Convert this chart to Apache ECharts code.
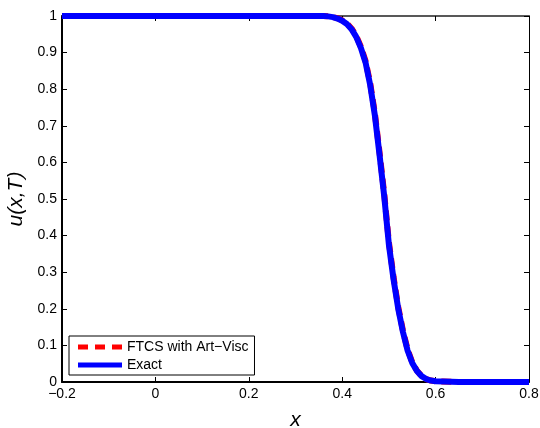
<!DOCTYPE html>
<html>
<head>
<meta charset="utf-8">
<script src="https://cdn.jsdelivr.net/npm/echarts@6/dist/echarts.min.js"></script>
<style>
  html, body { margin: 0; padding: 0; background: #fff; }
  #main { width: 540px; height: 428px; }
</style>
</head>
<body>
<div id="main"></div>
<script>
// values
var xs     = [-0.2, 0.30, 0.34, 0.36, 0.37, 0.38, 0.39, 0.40, 0.41, 0.42, 0.43, 0.44, 0.45, 0.46, 0.47, 0.48, 0.49, 0.50, 0.51, 0.52, 0.53, 0.54, 0.55, 0.56, 0.57, 0.58, 0.59, 0.60, 0.65, 0.8];
var exact  = [1.0, 1.0, 1.0, 1.0, 0.999, 0.997, 0.993, 0.987, 0.978, 0.964, 0.943, 0.913, 0.873, 0.811, 0.728, 0.620, 0.507, 0.375, 0.280, 0.200, 0.137, 0.086, 0.052, 0.030, 0.016, 0.008, 0.004, 0.002, 0.0, 0.0];
var ftcs   = [1.0, 1.0, 1.0, 1.0, 0.999, 0.997, 0.994, 0.988, 0.980, 0.966, 0.946, 0.916, 0.877, 0.816, 0.734, 0.627, 0.514, 0.382, 0.286, 0.205, 0.141, 0.089, 0.054, 0.031, 0.016, 0.008, 0.004, 0.002, 0.0, 0.0];
var xTicks = [-0.2, 0, 0.2, 0.4, 0.6, 0.8];
var xTickLabels = ['\u22120.2', '0', '0.2', '0.4', '0.6', '0.8'];
var yTicks = [0, 0.1, 0.2, 0.3, 0.4, 0.5, 0.6, 0.7, 0.8, 0.9, 1];
var yTickLabels = ['0', '0.1', '0.2', '0.3', '0.4', '0.5', '0.6', '0.7', '0.8', '0.9', '1'];
var seriesNames = ['FTCS with Art\u2212Visc', 'Exact'];

var font = 'Liberation Sans, Arial, Helvetica, sans-serif';

function tickLabel(ticks, labels) {
  return function (v) {
    for (var i = 0; i < ticks.length; i++) {
      if (Math.abs(ticks[i] - v) < 1e-6) return labels[i];
    }
    return '';
  };
}

function pairs(x, y) {
  var out = [];
  for (var i = 0; i < x.length; i++) out.push([x[i], y[i]]);
  return out;
}

var chart = echarts.init(document.getElementById('main'), null, { renderer: 'canvas' });

var tickStyle = { show: true, inside: true, length: 5, lineStyle: { color: '#000', width: 1 } };

var option = {
  backgroundColor: '#ffffff',
  animation: false,
  grid: { left: 62, right: 11, top: 16, bottom: 46, containLabel: false, outerBoundsMode: 'none' },
  legend: {
    orient: 'vertical',
    left: 69,
    top: 336,
    itemWidth: 44,
    itemHeight: 5,
    itemGap: 4,
    padding: [4, 6, 3, 9],
    backgroundColor: '#fff',
    borderColor: '#000',
    borderWidth: 1,
    borderRadius: 0,
    textStyle: { fontFamily: font, fontSize: 14, color: '#000' },
    data: [
      { name: seriesNames[0], icon: 'path://M0,0h10v5h-10z M17,0h10v5h-10z M34,0h10v5h-10z', itemStyle: { color: '#ff0000' } },
      { name: seriesNames[1], icon: 'rect', itemStyle: { color: '#0000ff' } }
    ]
  },
  xAxis: [{
    type: 'value',
    min: -0.2, max: 0.8, interval: 0.2,
    name: 'x',
    nameLocation: 'middle',
    nameGap: 28,
    nameTextStyle: { fontFamily: font, fontSize: 21, fontStyle: 'italic', color: '#000' },
    axisLine: { show: true, onZero: false, lineStyle: { color: '#000', width: 2 } },
    axisTick: tickStyle,
    axisLabel: { fontFamily: font, fontSize: 14, color: '#000', margin: 5, formatter: tickLabel(xTicks, xTickLabels) },
    splitLine: { show: false }
  }, {
    type: 'value',
    position: 'top',
    min: -0.2, max: 0.8, interval: 0.2,
    axisLine: { show: true, onZero: false, lineStyle: { color: '#222', width: 1.5 } },
    axisTick: tickStyle,
    axisLabel: { show: false },
    splitLine: { show: false }
  }],
  yAxis: [{
    type: 'value',
    min: 0, max: 1, interval: 0.1,
    name: 'u(x,T)',
    nameLocation: 'middle',
    nameGap: 30,
    nameTextStyle: { fontFamily: font, fontSize: 21, fontStyle: 'italic', color: '#000' },
    axisLine: { show: true, onZero: false, lineStyle: { color: '#000', width: 2 } },
    axisTick: tickStyle,
    axisLabel: { fontFamily: font, fontSize: 14, color: '#000', margin: 5, formatter: tickLabel(yTicks, yTickLabels) },
    splitLine: { show: false }
  }, {
    type: 'value',
    position: 'right',
    min: 0, max: 1, interval: 0.1,
    axisLine: { show: true, onZero: false, lineStyle: { color: '#000', width: 1 } },
    axisTick: tickStyle,
    axisLabel: { show: false },
    splitLine: { show: false }
  }],
  series: [{
    name: seriesNames[0],
    type: 'line',
    data: pairs(xs, ftcs),
    showSymbol: false,
    smooth: false,
    color: '#ff0000',
    lineStyle: { color: '#ff0000', width: 6, type: [10, 6], join: 'round' },
    z: 2
  }, {
    name: seriesNames[1],
    type: 'line',
    data: pairs(xs, exact),
    showSymbol: false,
    smooth: false,
    color: '#0000ff',
    lineStyle: { color: '#0000ff', width: 6, join: 'round' },
    z: 3
  }]
};

chart.setOption(option);
</script>
</body>
</html>
